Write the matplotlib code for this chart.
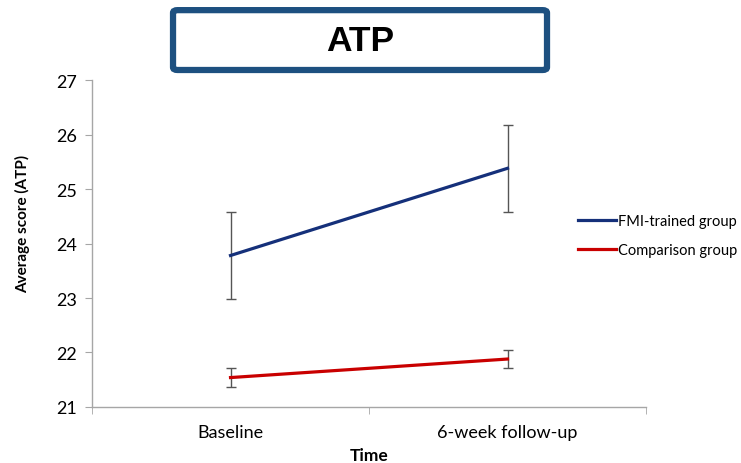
import matplotlib
matplotlib.use("Agg")
import matplotlib.pyplot as plt
from matplotlib.patches import FancyBboxPatch

# mean scores and error bar half-widths for each group
time_points = ["Baseline", "6-week follow-up"]
fmi_means = [23.78, 25.38]
fmi_err = [0.8, 0.8]
comp_means = [21.54, 21.88]
comp_err = [0.17, 0.17]

plt.rcParams['font.family'] = ['Lato', 'DejaVu Sans']

fig = plt.figure(figsize=(7.41, 4.64), dpi=100)
ax = fig.add_axes([0.1242, 0.1207, 0.7476, 0.7047])

x = range(len(time_points))
ax.plot(x, fmi_means, color='#15307a', lw=2.3, label='FMI-trained group', zorder=3)
ax.plot(x, comp_means, color='#c90000', lw=2.3, label='Comparison group', zorder=3)
ax.errorbar(x, fmi_means, yerr=fmi_err, fmt='none', ecolor='#555555',
            elinewidth=1, capsize=3.5, capthick=1, zorder=2)
ax.errorbar(x, comp_means, yerr=comp_err, fmt='none', ecolor='#555555',
            elinewidth=1, capsize=3.5, capthick=1, zorder=2)

ax.set_xlim(-0.5, 1.5)
ax.set_ylim(21, 27)
ax.set_yticks(range(21, 28))
ax.set_xticks(list(x))
ax.set_xticklabels(time_points, fontsize=13)
ax.set_xticks([-0.5, 0.5, 1.5], minor=True)
ax.tick_params(axis='x', which='major', length=0, pad=12)
ax.tick_params(axis='x', which='minor', length=5, color='#a6a6a6')
ax.tick_params(axis='y', length=5, color='#a6a6a6', labelsize=13, pad=6)

for side in ['top', 'right']:
    ax.spines[side].set_visible(False)
for side in ['left', 'bottom']:
    ax.spines[side].set_color('#a6a6a6')
    ax.spines[side].set_linewidth(1)

ax.set_xlabel('Time', fontsize=12.5, fontweight='bold', labelpad=5)
ax.set_ylabel('Average score (ATP)', fontsize=11, fontweight='bold')
ax.yaxis.set_label_coords(-0.111, 0.563)

ax.legend(loc='center left', bbox_to_anchor=(0.78, 0.49), frameon=False,
          fontsize=10.5, handlelength=2.6, handletextpad=0.15, labelspacing=1.0,
          borderpad=0, borderaxespad=0, bbox_transform=fig.transFigure)

# boxed title
box = FancyBboxPatch((0.2335, 0.847), 0.5047, 0.129, transform=fig.transFigure,
                     boxstyle='round,pad=0,rounding_size=0.006',
                     facecolor='white', edgecolor='#1d5080', lw=4.5)
fig.patches.append(box)
fig.text(0.4865, 0.91, 'ATP', ha='center', va='center', fontsize=25.5,
         fontweight='bold', family=['Liberation Sans', 'DejaVu Sans'])

fig.savefig('out.png', dpi=100)
